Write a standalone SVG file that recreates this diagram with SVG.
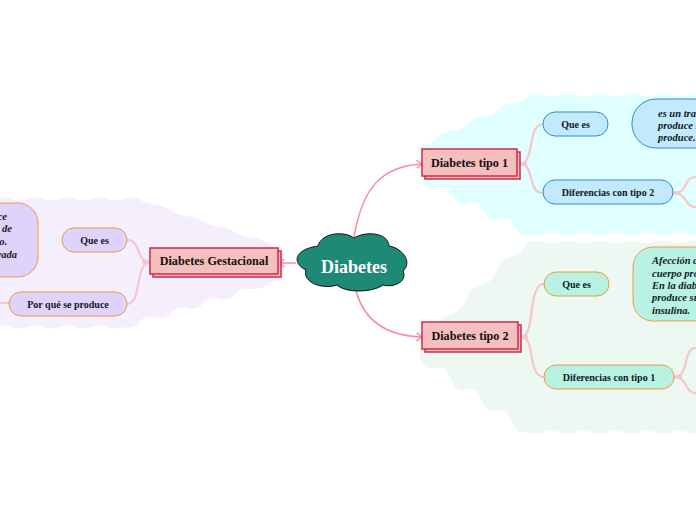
<svg xmlns="http://www.w3.org/2000/svg" width="696" height="520" viewBox="0 0 696 520">
<style>
text{font-family:"Liberation Serif",serif;font-weight:bold;fill:#10182a}
.m{font-size:12.2px;text-anchor:middle;fill:#111}
.s{font-size:10px;text-anchor:middle}
.b{font-size:10.5px;font-style:italic}
.main{fill:#f5bfc0;stroke:#cf2a4a;stroke-width:1.5}
.blue{fill:#c2e9fc;stroke:#2d8ccb;stroke-width:1}
.green{fill:#b8f2e2;stroke:#f49a3b;stroke-width:1}
.purple{fill:#dfd3fb;stroke:#f49a3b;stroke-width:1}
.link{fill:none;stroke:#f98d9c;stroke-width:1.5}
.sub{fill:none;stroke:#f5c6cb;stroke-width:2.2}
.stub{fill:none;stroke:#f5c6cb;stroke-width:3.5}
</style>
<defs>
<marker id="arrow" markerUnits="userSpaceOnUse" markerWidth="10" markerHeight="10" refX="6.5" refY="5" orient="auto"><path d="M1 1L6.5 5L1 9" fill="none" stroke="#f98d9c" stroke-width="1.4"/></marker>
</defs>
<g id="backgrounds">
<path fill="#e0ffff" d="M422 145q12 -2 15.4 -7.1t15.4 -7.1t15.4 -7.1t15.4 -7.1t15.4 -7.1t15.4 -7.1t15.4 -7.2q8 -3 16 0t16 0t16 0t16 0t16 0t16 0t16 0t16 0t16 0t16 0t16 0V234q-8 3 -16 0t-16 0t-16 0t-16 0t-16 0t-16 0t-16 0t-16 0t-16 0t-16 0t-16 0q-10 5 -15.4 -7.7t-15.4 -7.7t-15.4 -7.7t-15.4 -7.7t-15.4 -7.7t-15.4 -7.7t-15.6 -7.8Z"/>
<path fill="#edf8f2" d="M420 343q12 -3 15.300 -14.400t15.300 -14.400t15.300 -14.400t15.300 -14.400t15.300 -14.400t15.300 -14.400t15.300 -14.600q8 -3 16 0t16 0t16 0t16 0t16 0t16 0t16 0t16 0t16 0t16 0t16 0V432q-8 3 -16 0t-16 0t-16 0t-16 0t-16 0t-16 0t-16 0t-16 0t-16 0t-16 0t-16 0q-10 4 -15.300 -10.700t-15.300 -10.700t-15.300 -10.700t-15.300 -10.700t-15.300 -10.700t-15.300 -10.700t-15.300 -11.800Z"/>
<path fill="#f5eefc" d="M283 248q-12 -2 -16 -5.300t-16 -5.300t-16 -5.300t-16 -5.300t-16 -5.300t-16 -5.300t-16 -5.700t-16 -5.700t-16 -5.700q-8 -3 -16 0t-16 0t-16 0t-16 0t-16 0t-16 0t-16 0t-16 0t-16 0t-16 0V327q8 3 16 0t16 0t16 0t16 0t16 0t16 0t16 0t16 0t16 0q10 3 16 -4.700t16 -4.700t16 -4.700t16 -4.700t16 -4.700t16 -4.700t16 -4.700t16 -4.700q12 -1 16 -5t16 -4V248Z"/>
</g>
<g id="connectors">
<path class="link" marker-end="url(#arrow)" d="M354 237C362 190 380 166 422 164"/>
<path class="link" marker-end="url(#arrow)" d="M356 291C364 320 385 336 422 337"/>
<path class="link" marker-end="url(#arrow)" d="M296 263H279"/>
<path class="sub" d="M520 164C535 164 527 124 543 124"/>
<path class="sub" d="M520 164C535 164 527 193 543 193"/>
<path class="stub" d="M519 164H527"/>
<path class="sub" d="M673 193C690 193 682 177 696 177"/>
<path class="sub" d="M673 193C688 193 684 207 696 207"/>
<path class="stub" d="M673 193H681"/>
<path class="sub" d="M521 337C536 337 527 284 544 284"/>
<path class="sub" d="M521 337C536 337 527 377 544 377"/>
<path class="stub" d="M520 337H528"/>
<path class="sub" d="M674 377C690 377 682 348 696 348"/>
<path class="sub" d="M674 377C688 377 684 393 696 393"/>
<path class="stub" d="M674 377H682"/>
<path class="sub" d="M150 262C135 262 142 240 127 240"/>
<path class="sub" d="M150 262C135 262 142 304 127 304"/>
<path class="stub" d="M142 262H150"/>
<path class="sub" d="M9 303H0"/>
</g>
<g id="n-root">
<path fill="#1e8a75" stroke="#111" stroke-width="1" d="M318 246C322 232 345 231 354 238C365 231 388 232 389 246C402 248 413 262 403 271C408 282 393 288 383 285C372 293 345 293 337 285C322 290 302 282 306 270C293 264 292 250 318 246Z"/>
<text x="354" y="273" font-size="18" text-anchor="middle" style="fill:#fff">Diabetes</text>
</g>
<g id="n-tipo1">
<rect class="main" x="425" y="152" width="95" height="27"/><rect class="main" x="422" y="149" width="95" height="27"/>
<text class="m" x="469.500" y="167">Diabetes tipo 1</text>
</g>
<g id="n-t1-que"><rect class="blue" x="543" y="112" width="65" height="24" rx="12"/><text class="s" x="575.500" y="128">Que es</text></g>
<g id="n-t1-desc"><rect class="blue" x="632" y="99" width="90" height="49" rx="24"/>
<text class="b" x="658" y="117">es un tras</text><text class="b" x="658" y="129">produce i</text><text class="b" x="658" y="141">produce.</text></g>
<g id="n-t1-dif"><rect class="blue" x="543" y="180" width="130" height="24" rx="12"/><text class="s" x="608" y="196">Diferencias con tipo 2</text></g>
<g id="n-tipo2">
<rect class="main" x="425" y="325" width="96" height="27"/><rect class="main" x="422" y="322" width="96" height="27"/>
<text class="m" x="470" y="340">Diabetes tipo 2</text>
</g>
<g id="n-t2-que"><rect class="green" x="544" y="272" width="65" height="24" rx="12"/><text class="s" x="576.500" y="288">Que es</text></g>
<g id="n-t2-desc"><rect class="green" x="633" y="247" width="90" height="74" rx="20"/>
<text class="b" x="652" y="264">Afección d</text><text class="b" x="652" y="277">cuerpo pro</text><text class="b" x="652" y="289">En la diab</text><text class="b" x="652" y="301">produce su</text><text class="b" x="652" y="314">insulina.</text></g>
<g id="n-t2-dif"><rect class="green" x="544" y="365" width="130" height="24" rx="12"/><text class="s" x="609" y="381">Diferencias con tipo 1</text></g>
<g id="n-gest">
<rect class="main" x="153" y="251" width="128" height="26"/><rect class="main" x="150" y="248" width="128" height="26"/>
<text class="m" x="214" y="265">Diabetes Gestacional</text>
</g>
<g id="n-g-que"><rect class="purple" x="62" y="228" width="65" height="24" rx="12"/><text class="s" x="94.500" y="244">Que es</text></g>
<g id="n-g-desc"><rect class="purple" x="-60" y="203" width="98" height="74" rx="20"/>
<text class="b" x="7" y="220" text-anchor="end">ce</text><text class="b" x="12" y="232" text-anchor="end">de</text><text class="b" x="7" y="245" text-anchor="end">o.</text><text class="b" x="17" y="258" text-anchor="end">vada</text></g>
<g id="n-g-por"><rect class="purple" x="9" y="292" width="118" height="24" rx="12"/><text class="s" x="68" y="308">Por qué se produce</text></g>
</svg>
